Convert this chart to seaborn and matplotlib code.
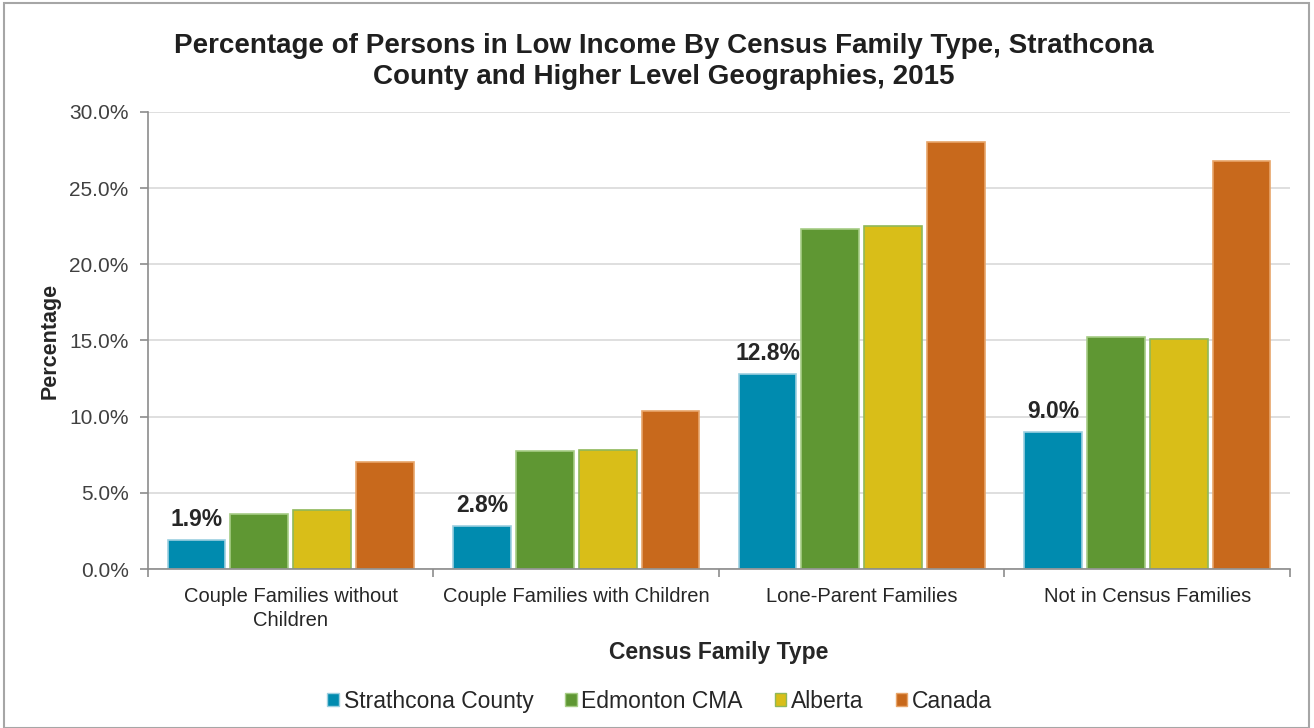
import matplotlib
matplotlib.use("Agg")
import matplotlib.pyplot as plt
import matplotlib.patches as mpatches
from matplotlib.ticker import FuncFormatter, FixedLocator
import pandas as pd
import seaborn as sns

# ---------------------------------------------------------------------------
# data
# ---------------------------------------------------------------------------
family_types = ["Couple Families without\nChildren", "Couple Families with Children",
                "Lone-Parent Families", "Not in Census Families"]
geographies = ["Strathcona County", "Edmonton CMA", "Alberta", "Canada"]
strathcona = [1.9, 2.8, 12.8, 9.0]
edmonton = [3.6, 7.75, 22.3, 15.2]
alberta = [3.9, 7.8, 22.5, 15.1]
canada = [7.0, 10.4, 28.0, 26.8]

colors = ["#008BAF", "#5F9733", "#D9BE18", "#C8691C"]
edges = ["#9ccfe0", "#a6cc85", "#8fb85a", "#e8a56a"]

df = pd.DataFrame({
    "family": family_types * 4,
    "geo": sum([[g] * 4 for g in geographies], []),
    "pct": strathcona + edmonton + alberta + canada,
})

sns.set_style("white")
plt.rcParams["font.family"] = ["Liberation Sans", "DejaVu Sans"]

fig = plt.figure(figsize=(13.14, 7.28), dpi=100)
ax = fig.add_axes([0.1126, 0.2184, 0.8691, 0.6278])

sns.barplot(data=df, x="family", y="pct", hue="geo", hue_order=geographies,
            palette=colors, width=0.88, gap=0.08, ax=ax, legend=False,
            saturation=1, errorbar=None)

# lighter outline per series, like the original
for cont, ec in zip(ax.containers, edges):
    for p in cont:
        p.set_edgecolor(ec)
        p.set_linewidth(1.2)

# value labels on Strathcona County bars only
for p, v in zip(ax.containers[0], strathcona):
    ax.text(p.get_x() + p.get_width() / 2, v + 0.6, f"{v:.1f}%",
            ha="center", va="bottom", fontsize=16.5, fontweight="bold", color="#262626")

ax.set_ylim(0, 30)
ax.set_xlim(-0.5, 3.5)
ax.yaxis.set_major_locator(FixedLocator([0, 5, 10, 15, 20, 25, 30]))
ax.yaxis.set_major_formatter(FuncFormatter(lambda v, _: f"{v:.1f}%"))
ax.yaxis.grid(True, color="#d9d9d9", linewidth=1.2)
ax.set_axisbelow(True)

for s in ["top", "right"]:
    ax.spines[s].set_visible(False)
for s in ["left", "bottom"]:
    ax.spines[s].set_color("#8c8c8c")
    ax.spines[s].set_linewidth(1.2)

ax.tick_params(axis="y", labelsize=15, colors="#8c8c8c", length=6, width=1.2,
               direction="out", left=True, labelcolor="#404040", pad=8)
ax.tick_params(axis="x", which="major", length=0, labelsize=14.5, labelcolor="#262626", pad=13)
ax.set_xticks([-0.5, 0.5, 1.5, 2.5, 3.5], minor=True)
ax.tick_params(axis="x", which="minor", length=6, width=1.2, color="#8c8c8c", bottom=True)
for lbl in ax.get_xticklabels():
    lbl.set_verticalalignment("top")
    lbl.set_linespacing(1.3)

ax.set_xlabel("Census Family Type", fontsize=16.5, fontweight="bold", color="#262626", labelpad=8)
ax.set_ylabel("Percentage", fontsize=15.5, fontweight="bold", color="#262626", labelpad=6)

fig.suptitle("Percentage of Persons in Low Income By Census Family Type, Strathcona\n"
             "County and Higher Level Geographies, 2015",
             x=0.505, y=0.955, fontsize=20, fontweight="bold", color="#1f1f1f", linespacing=1.25)

handles = [mpatches.Patch(facecolor=c, edgecolor=e, label=g)
           for c, e, g in zip(colors, edges, geographies)]
fig.legend(handles=handles, loc="center", bbox_to_anchor=(0.502, 0.037), ncol=4,
           frameon=False, fontsize=16.5, handlelength=0.5, handleheight=0.5,
           handletextpad=0.2, columnspacing=1.4, labelcolor="#262626")

# thin outline around the whole chart area
fig.patches.append(mpatches.Rectangle((0.003, 0.0), 0.993, 0.996, transform=fig.transFigure,
                                      fill=False, edgecolor="#a6a6a6", linewidth=1.5))

fig.savefig("out.png", dpi=100)
